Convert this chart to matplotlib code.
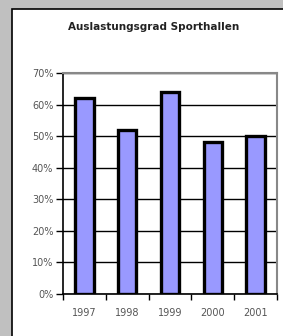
import matplotlib
matplotlib.use("Agg")
import matplotlib.pyplot as plt
from matplotlib.patches import Rectangle
from matplotlib.ticker import FixedLocator

years = ["1997", "1998", "1999", "2000", "2001"]
values = [62, 52, 64, 48, 50]
yticks = [0, 10, 20, 30, 40, 50, 60, 70]
ytick_labels = ["0%", "10%", "20%", "30%", "40%", "50%", "60%", "70%"]
title = "Auslastungsgrad Sporthallen"

plt.rcParams['font.family'] = ['DejaVu Sans']

W, H = 283, 336
fig = plt.figure(figsize=(W / 100, H / 100), dpi=100)
fig.patch.set_facecolor("#c0c0c0")

# white panel with black left/top border
bg = fig.add_axes([0, 0, 1, 1], zorder=0)
bg.set_xlim(0, W)
bg.set_ylim(H, 0)
bg.axis("off")
bg.add_patch(Rectangle((12, 9), W + 20, H + 20, facecolor="white",
                       edgecolor="black", linewidth=1.2))

ax = fig.add_axes([63 / W, 1 - 294 / H, (277 - 63) / W, (294 - 73) / H], zorder=2)
ax.set_facecolor("white")
x = list(range(len(years)))
ax.bar(x, values, width=0.43, color="#9999ff", edgecolor="black", linewidth=2.4, zorder=3)
ax.set_xlim(-0.5, len(years) - 0.5)
ax.set_ylim(0, 70)
ax.set_yticks(yticks)
ax.set_yticklabels(ytick_labels, color="#555555", fontsize=7)
ax.yaxis.grid(True, color="black", linewidth=1.0, zorder=0)
ax.set_axisbelow(True)

ax.set_xticks(x)
ax.set_xticklabels(years, color="#555555", fontsize=7)
ax.tick_params(axis="x", which="major", length=0, pad=10)
ax.xaxis.set_minor_locator(FixedLocator([i + 0.5 for i in range(-1, len(years))]))
ax.tick_params(axis="x", which="minor", length=4, width=1, direction="out", color="black")
ax.tick_params(axis="y", length=5, width=1, direction="out", color="black", pad=2)

ax.spines["left"].set_color("black")
ax.spines["left"].set_linewidth(1.2)
ax.spines["bottom"].set_color("black")
ax.spines["bottom"].set_linewidth(1.2)
ax.spines["top"].set_color("#888888")
ax.spines["top"].set_linewidth(1.5)
ax.spines["right"].set_color("#888888")
ax.spines["right"].set_linewidth(1.5)

fig.text(153.5 / W, 1 - 27 / H, title, ha="center", va="center",
         fontsize=7.5, fontweight="bold", color="#222222", zorder=3)

fig.savefig("out.png", dpi=100, facecolor=fig.get_facecolor())
